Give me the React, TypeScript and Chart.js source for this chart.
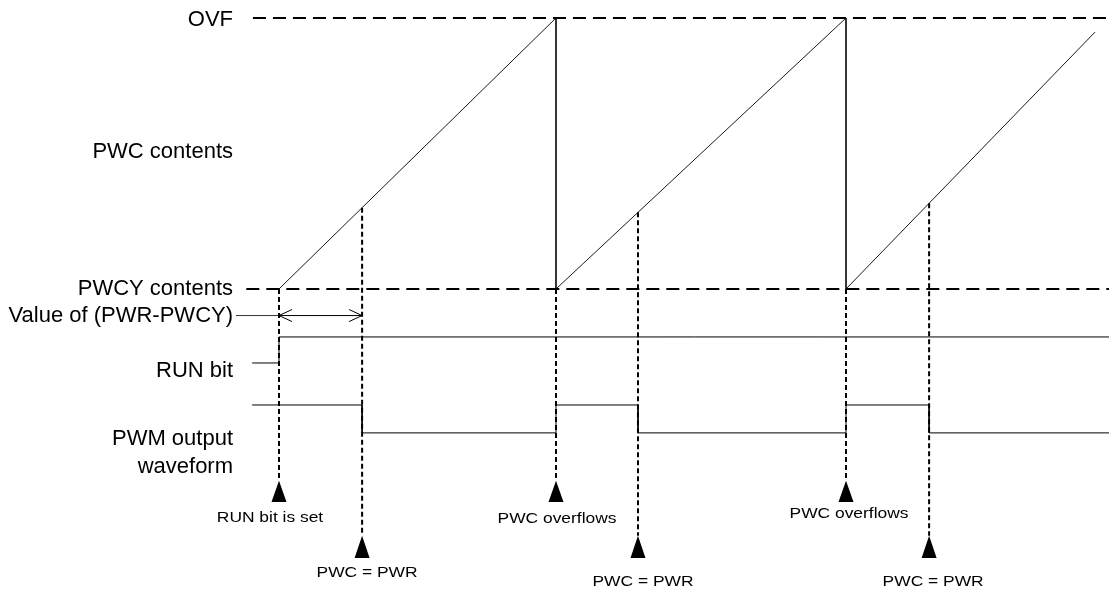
import { useEffect, useRef } from "react";
import { Chart, registerables } from "chart.js";

Chart.register(...registerables);

// ---------------- data (time in arbitrary ticks, counter in % of PWCY..OVF) ----------------
const counterTimes = [0, 100, 100, 204.7, 204.7, 294.6];
const counterValues = [0, 100, 0, 100, 0, 94.8];
const runBitTimes = [-9.7, 0, 0, 300];
const runBitValues = [0, 0, 1, 1];
const pwmTimes = [-9.7, 30, 30, 100, 100, 129.6, 129.6, 204.7, 204.7, 234.7, 234.7, 300];
const pwmValues = [1, 1, 0, 0, 1, 1, 0, 0, 1, 1, 0, 0];
const eventTimes = [0, 30, 100, 129.6, 204.7, 234.7];
const eventCounts = [0, 30, 0, 28.3, 0, 31.6];
const eventLabels = ["RUN bit is set", "PWC = PWR", "PWC overflows", "PWC = PWR", "PWC overflows", "PWC = PWR"];
const eventRows = [0, 1, 0, 1, 0, 1];
const levelNames = ["OVF", "PWC contents", "PWCY contents", "Value of (PWR-PWCY)", "RUN bit", "PWM output", "waveform"];
const OVF_LEVEL = 100;
const PWCY_LEVEL = 0;
const pwrSpan = [0, 30];

// ---------------- layout ----------------
const X_MIN = -100.72;
const X_MAX = 299.64;
const Y_MIN = -112.18;
const Y_MAX = 106.64;
const RUN_LANE = { low: -27.3, high: -17.7 };
const PWM_LANE = { low: -53.1, high: -42.8 };
const ARROW_LANE = -9.8;
const OVF_LINE_START = -9.4;
const PWCY_LINE_START = -11.8;
const LABEL_LINE_START = -15.5;
const LABEL_X = -16.6;
const labelYs = [99.3, 50.6, 0.2, -10.1, -30.1, -55.4, -65.7];
const rowApex = [-70.8, -91.1];
const rowBase = [-78.6, -99.3];
const eventLabelYs = [-84.5, -104.8, -84.9, -108.1, -83.0, -108.1];
const eventLabelDx = [-9, 5, 1, 5, 3, 4];

const FONT = '"Liberation Sans", Arial, Helvetica, sans-serif';

const pts = (xs: number[], ys: number[]) => xs.map((x, i) => ({ x, y: ys[i] }));

const line = (data: { x: number; y: number }[], extra: any = {}) => ({
  data,
  showLine: true,
  pointRadius: 0,
  pointHoverRadius: 0,
  borderColor: "#000",
  borderWidth: 1,
  tension: 0,
  fill: false,
  ...extra,
});

const annotations = {
  id: "timingAnnotations",
  afterDatasetsDraw(chart: any) {
    const { ctx, scales } = chart;
    const xs = scales.x;
    const ys = scales.y;
    const px = (v: number) => xs.getPixelForValue(v);
    const py = (v: number) => ys.getPixelForValue(v);
    ctx.save();

    // double arrow heads for (PWR-PWCY)
    const ay = py(ARROW_LANE);
    const a0 = px(pwrSpan[0]);
    const a1 = px(pwrSpan[1]);
    ctx.strokeStyle = "#000";
    ctx.lineWidth = 1;
    ctx.beginPath();
    ctx.moveTo(a0 + 13, ay - 6);
    ctx.lineTo(a0, ay);
    ctx.lineTo(a0 + 13, ay + 6);
    ctx.moveTo(a1 - 13, ay - 6);
    ctx.lineTo(a1, ay);
    ctx.lineTo(a1 - 13, ay + 6);
    ctx.stroke();

    // event triangles and labels
    ctx.fillStyle = "#000";
    eventTimes.forEach((t, i) => {
      const x = px(t);
      const r = eventRows[i];
      const top = py(rowApex[r]);
      const bot = py(rowBase[r]);
      ctx.beginPath();
      ctx.moveTo(x, top);
      ctx.lineTo(x + 7.5, bot);
      ctx.lineTo(x - 7.5, bot);
      ctx.closePath();
      ctx.fill();

      ctx.save();
      ctx.translate(x + eventLabelDx[i], py(eventLabelYs[i]));
      ctx.scale(1.2, 1);
      ctx.font = `14.5px ${FONT}`;
      ctx.textAlign = "center";
      ctx.textBaseline = "middle";
      ctx.fillText(eventLabels[i], 0, 0);
      ctx.restore();
    });

    // level names on the left
    ctx.font = `22px ${FONT}`;
    ctx.textAlign = "right";
    ctx.textBaseline = "middle";
    levelNames.forEach((name, i) => {
      ctx.fillText(name, px(LABEL_X), py(labelYs[i]));
    });

    ctx.restore();
  },
};

export default function App() {
  const ref = useRef<HTMLCanvasElement>(null);

  useEffect(() => {
    const runLane = runBitValues.map((v) => (v ? RUN_LANE.high : RUN_LANE.low));
    const pwmLane = pwmValues.map((v) => (v ? PWM_LANE.high : PWM_LANE.low));

    const eventLines = eventTimes.map((t, i) =>
      line(
        [
          { x: t, y: eventCounts[i] },
          { x: t, y: rowApex[eventRows[i]] },
        ],
        { borderDash: [5, 3], borderWidth: 2 }
      )
    );

    const chart = new Chart(ref.current!, {
      type: "scatter",
      data: {
        datasets: [
          ...eventLines,
          line(
            [
              { x: OVF_LINE_START, y: OVF_LEVEL },
              { x: X_MAX, y: OVF_LEVEL },
            ],
            { borderDash: [13, 7], borderWidth: 2 }
          ),
          line(
            [
              { x: PWCY_LINE_START, y: PWCY_LEVEL },
              { x: X_MAX, y: PWCY_LEVEL },
            ],
            { borderDash: [13, 7], borderWidth: 2 }
          ),
          line(pts(counterTimes, counterValues), { borderColor: "#1a1a1a" }),
          line([
            { x: LABEL_LINE_START, y: ARROW_LANE },
            { x: pwrSpan[0], y: ARROW_LANE },
          ], { borderColor: "#333" }),
          line([
            { x: pwrSpan[0], y: ARROW_LANE },
            { x: pwrSpan[1], y: ARROW_LANE },
          ]),
          line(pts(runBitTimes, runLane)),
          line(pts(pwmTimes, pwmLane)),
        ] as any,
      },
      options: {
        animation: false,
        responsive: true,
        maintainAspectRatio: false,
        events: [],
        layout: { padding: 0 },
        plugins: {
          legend: { display: false },
          tooltip: { enabled: false },
        },
        scales: {
          x: { type: "linear", display: false, min: X_MIN, max: X_MAX },
          y: { type: "linear", display: false, min: Y_MIN, max: Y_MAX },
        },
      },
      plugins: [annotations],
    });
    return () => chart.destroy();
  }, []);

  return (
    <div
      style={{
        position: "fixed",
        left: 0,
        top: 0,
        width: 1109,
        height: 593,
        background: "#fff",
      }}
    >
      <canvas ref={ref} />
    </div>
  );
}
